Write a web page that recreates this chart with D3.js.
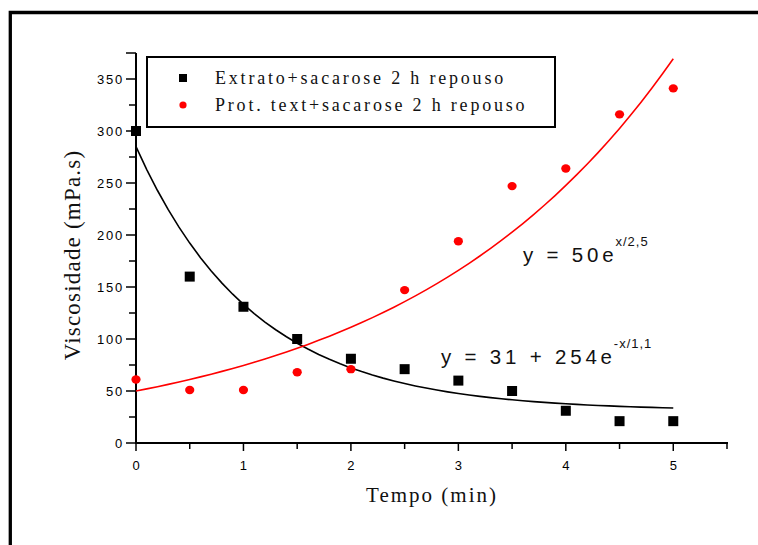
<!DOCTYPE html>
<html>
<head>
<meta charset="utf-8">
<script src="https://cdn.jsdelivr.net/npm/d3@7/dist/d3.min.js"></script>
<style>
  html, body { margin: 0; padding: 0; background: #fff; }
  svg { display: block; }
</style>
</head>
<body>
<svg id="chart" width="758" height="545"></svg>
<script>
// Viscosity over time for the two mixtures after 2 h rest
const tempo = [0, 0.5, 1, 1.5, 2, 2.5, 3, 3.5, 4, 4.5, 5];
const extrato = [300, 160, 131, 100, 81, 71, 60, 50, 31, 21, 21];
const protText = [61, 51, 51, 68, 71, 147, 194, 247, 264, 316, 341];

// Fitted models, as printed beside the curves
const fitExtrato = { y0: 31, a: 254, t: 1.1 };   // y = y0 + a·e^(-x/t)
const fitProt = { a: 50, t: 2.5 };               // y = a·e^(x/t)

const seriesNames = ["Extrato+sacarose 2 h repouso", "Prot. text+sacarose 2 h repouso"];
const xTicks = [0, 1, 2, 3, 4, 5];
const yTicks = [0, 50, 100, 150, 200, 250, 300, 350];

const svg = d3.select("#chart");
const sans = "'Liberation Sans', Arial, sans-serif";
const serif = "'Liberation Serif', 'Times New Roman', serif";

// Outer frame (open at right and bottom)
svg.append("path")
  .attr("d", "M10.3,560 V12.5 H770")
  .attr("fill", "none").attr("stroke", "#000").attr("stroke-width", 3.3);

const x = d3.scaleLinear().domain([0, 5.5]).range([136, 727]);
const y = d3.scaleLinear().domain([0, 375]).range([443, 53]);

// Y axis
const yAxis = svg.append("g").attr("transform", `translate(${x(0)},0)`);
yAxis.append("line").attr("x1", 0).attr("x2", 0).attr("y1", y(0) + 1).attr("y2", y(375))
  .attr("stroke", "#000").attr("stroke-width", 2);
yAxis.selectAll("line.tk").data(d3.range(0, 376, 25)).join("line").attr("class", "tk")
  .attr("x1", d => (d % 50 === 0 || d === 375) ? -10 : -7).attr("x2", 0)
  .attr("y1", d => y(d)).attr("y2", d => y(d))
  .attr("stroke", "#000").attr("stroke-width", 1.5);
yAxis.selectAll("text").data(yTicks).join("text")
  .attr("x", -12).attr("y", d => y(d) + 4.8)
  .attr("text-anchor", "end").attr("font-family", sans).attr("font-size", 13)
  .attr("letter-spacing", 1.8).attr("fill", "#000")
  .text(d => d);

// X axis
const xAxis = svg.append("g").attr("transform", `translate(0,${y(0)})`);
xAxis.append("line").attr("x1", x(0) - 1).attr("x2", x(5.5) + 1).attr("y1", 0).attr("y2", 0)
  .attr("stroke", "#000").attr("stroke-width", 2);
xAxis.selectAll("line.tk").data(d3.range(0, 5.51, 0.5)).join("line").attr("class", "tk")
  .attr("x1", d => x(d)).attr("x2", d => x(d))
  .attr("y1", 0).attr("y2", d => Number.isInteger(d) ? 8 : 6)
  .attr("stroke", "#000").attr("stroke-width", 1.5);
xAxis.selectAll("text").data(xTicks).join("text")
  .attr("x", d => x(d)).attr("y", 27)
  .attr("text-anchor", "middle").attr("font-family", sans).attr("font-size", 13)
  .attr("fill", "#000")
  .text(d => d);

// Axis titles
svg.append("text")
  .attr("transform", "translate(80,255) rotate(-90)")
  .attr("text-anchor", "middle").attr("font-family", serif).attr("font-size", 23)
  .attr("letter-spacing", 1.2).attr("fill", "#111")
  .text("Viscosidade (mPa.s)");
svg.append("text")
  .attr("x", 432).attr("y", 502)
  .attr("text-anchor", "middle").attr("font-family", serif).attr("font-size", 21)
  .attr("letter-spacing", 2).attr("fill", "#111")
  .text("Tempo (min)");

// Fitted curves
const xs = d3.range(0, 5.0001, 0.1);
const line = d3.line().x(d => x(d[0])).y(d => y(d[1]));
svg.append("path")
  .datum(xs.map(t => [t, fitExtrato.y0 + fitExtrato.a * Math.exp(-t / fitExtrato.t)]))
  .attr("d", line).attr("fill", "none").attr("stroke", "#000").attr("stroke-width", 1.6);
svg.append("path")
  .datum(xs.map(t => [t, fitProt.a * Math.exp(t / fitProt.t)]))
  .attr("d", line).attr("fill", "none").attr("stroke", "#f00").attr("stroke-width", 1.6);

// Data markers
const sq = 10;
svg.selectAll("rect.ext").data(tempo.map((t, i) => [t, extrato[i]])).join("rect")
  .attr("class", "ext")
  .attr("x", d => x(d[0]) - sq / 2).attr("y", d => y(d[1]) - sq / 2)
  .attr("width", sq).attr("height", sq).attr("fill", "#000");
svg.selectAll("ellipse.prot").data(tempo.map((t, i) => [t, protText[i]])).join("ellipse")
  .attr("class", "prot")
  .attr("cx", d => x(d[0])).attr("cy", d => y(d[1]))
  .attr("rx", 4.6).attr("ry", 4.2).attr("fill", "#f00");

// Legend
const lg = svg.append("g");
lg.append("rect").attr("x", 147).attr("y", 57).attr("width", 408).attr("height", 70)
  .attr("fill", "#fff").attr("stroke", "#000").attr("stroke-width", 2);
lg.append("rect").attr("x", 179).attr("y", 74).attr("width", 8).attr("height", 8).attr("fill", "#000");
lg.append("circle").attr("cx", 183).attr("cy", 105).attr("r", 3.6).attr("fill", "#f00");
lg.selectAll("text").data(seriesNames).join("text")
  .attr("x", 215).attr("y", (d, i) => 84 + i * 27)
  .attr("font-family", serif).attr("font-size", 18).attr("letter-spacing", 2.8)
  .attr("fill", "#111")
  .text(d => d);

// Fit equations
function equation(px, py, base, sup, supDy) {
  const t = svg.append("text").attr("x", px).attr("y", py)
    .attr("font-family", sans).attr("font-size", 20.5).attr("letter-spacing", 3.8).attr("fill", "#111");
  t.append("tspan").text(base);
  t.append("tspan").attr("font-size", 13).attr("letter-spacing", 1)
    .attr("dx", -2).attr("dy", supDy).text(sup);
}
equation(523, 262, `y = ${fitProt.a}e`, `x/${String(fitProt.t).replace(".", ",")}`, -16);
equation(441, 364, `y = ${fitExtrato.y0} + ${fitExtrato.a}e`, `-x/${String(fitExtrato.t).replace(".", ",")}`, -16);
</script>
</body>
</html>
